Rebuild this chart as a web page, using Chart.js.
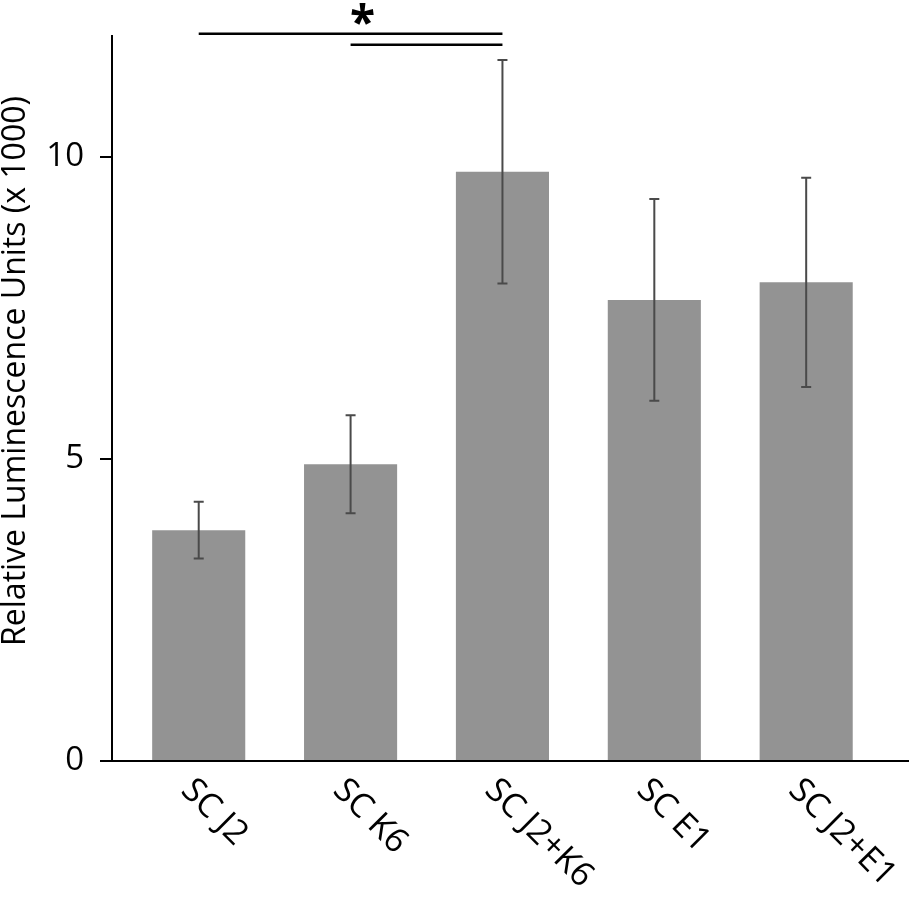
<!DOCTYPE html>
<html>
<head>
<meta charset="utf-8">
<title>Relative Luminescence</title>
<script src="https://cdn.jsdelivr.net/npm/chart.js@4.4.1/dist/chart.umd.min.js"></script>
<style>
  html, body { margin: 0; padding: 0; background: #fff; }
  #wrap { width: 909px; height: 898px; position: relative; }
</style>
</head>
<body>
<div id="wrap"><canvas id="chart1"></canvas></div>
<script>
// data (values x 1000)
const categories = ['SC J2', 'SC K6', 'SC J2+K6', 'SC E1', 'SC J2+E1'];
const means = [3.82, 4.91, 9.75, 7.63, 7.92];
const errors = [0.47, 0.81, 1.85, 1.67, 1.73];
const yTicks = [0, 5, 10];
const sigPairs = [[0, 2], [1, 2]];  // significance brackets (category index pairs)
const sigMark = '*';

const fontFam = '"Open Sans", "Noto Sans", sans-serif';

// error bars on top of each bar
const errorBars = {
  id: 'errorBars',
  afterDatasetsDraw(chart) {
    const ctx = chart.ctx;
    const y = chart.scales.y;
    const bars = chart.getDatasetMeta(0).data;
    ctx.save();
    ctx.strokeStyle = '#4a4a4a';
    ctx.lineWidth = 2;
    bars.forEach((bar, i) => {
      const top = y.getPixelForValue(means[i] + errors[i]);
      const bot = y.getPixelForValue(means[i] - errors[i]);
      ctx.beginPath();
      ctx.moveTo(bar.x, top); ctx.lineTo(bar.x, bot);
      ctx.moveTo(bar.x - 5, top); ctx.lineTo(bar.x + 5, top);
      ctx.moveTo(bar.x - 5, bot); ctx.lineTo(bar.x + 5, bot);
      ctx.stroke();
    });
    ctx.restore();
  }
};

// significance lines, rotated category labels, y title
const extras = {
  id: 'extras',
  afterDraw(chart) {
    const ctx = chart.ctx;
    const bars = chart.getDatasetMeta(0).data;
    const area = chart.chartArea;
    ctx.save();

    // brackets above the plot
    ctx.strokeStyle = '#000';
    ctx.lineWidth = 2.5;
    sigPairs.forEach((p, k) => {
      const yy = area.top - 2 + k * 11;
      ctx.beginPath();
      ctx.moveTo(bars[p[0]].x, yy);
      ctx.lineTo(bars[p[1]].x, yy);
      ctx.stroke();
    });
    const p0 = sigPairs[0];
    const sx = (bars[p0[0]].x + bars[p0[1]].x) / 2 + 12;
    ctx.fillStyle = '#000';
    ctx.font = 'bold 46px ' + fontFam;
    ctx.textAlign = 'center';
    ctx.textBaseline = 'alphabetic';
    const m = ctx.measureText(sigMark);
    const cy = 14;
    ctx.fillText(sigMark, sx, cy + (m.actualBoundingBoxAscent - m.actualBoundingBoxDescent) / 2);

    // x labels, rotated 45deg going down-right
    ctx.font = '34px ' + fontFam;
    ctx.textAlign = 'left';
    ctx.textBaseline = 'middle';
    bars.forEach((bar, i) => {
      ctx.save();
      ctx.translate(bar.x - 12, area.bottom + 24);
      ctx.rotate(Math.PI / 4);
      ctx.fillText(categories[i], 0, 0);
      ctx.restore();
    });

    // y axis title
    ctx.font = '32px ' + fontFam;
    ctx.textAlign = 'center';
    ctx.save();
    ctx.translate(16, 371);
    ctx.rotate(-Math.PI / 2);
    ctx.fillText('Relative Luminescence Units (x 1000)', 0, 0);
    ctx.restore();

    ctx.restore();
  }
};

const chart = new Chart(document.getElementById('chart1'), {
  type: 'bar',
  data: {
    datasets: [{
      data: means.map((v, i) => ({ x: i, y: v })),
      backgroundColor: '#939393',
      borderWidth: 0,
      categoryPercentage: 1,
      barPercentage: 0.613
    }]
  },
  options: {
    responsive: true,
    maintainAspectRatio: false,
    animation: false,
    layout: { padding: { top: 33, left: 0, right: 0, bottom: 0 } },
    plugins: {
      legend: { display: false },
      tooltip: { enabled: false }
    },
    scales: {
      x: {
        type: 'linear',
        offset: false,
        min: -0.571,
        max: 4.677,
        afterBuildTicks: s => { s.ticks = categories.map((c, i) => ({ value: i })); },
        afterFit: s => { s.height = 137; },
        ticks: { display: false },
        grid: { display: true, offset: false, drawOnChartArea: false, drawTicks: false },
        border: { display: true, color: '#000', width: 2 }
      },
      y: {
        min: 0,
        max: 12,
        afterBuildTicks: s => { s.ticks = yTicks.map(v => ({ value: v })); },
        afterFit: s => { s.width = 112; },
        ticks: {
          color: '#000',
          padding: 16,
          font: { family: fontFam, size: 33 }
        },
        grid: { drawOnChartArea: false, drawTicks: true, tickLength: 12, color: '#000', lineWidth: 2 },
        border: { display: true, color: '#000', width: 2 }
      }
    }
  },
  plugins: [errorBars, extras]
});
</script>
</body>
</html>
